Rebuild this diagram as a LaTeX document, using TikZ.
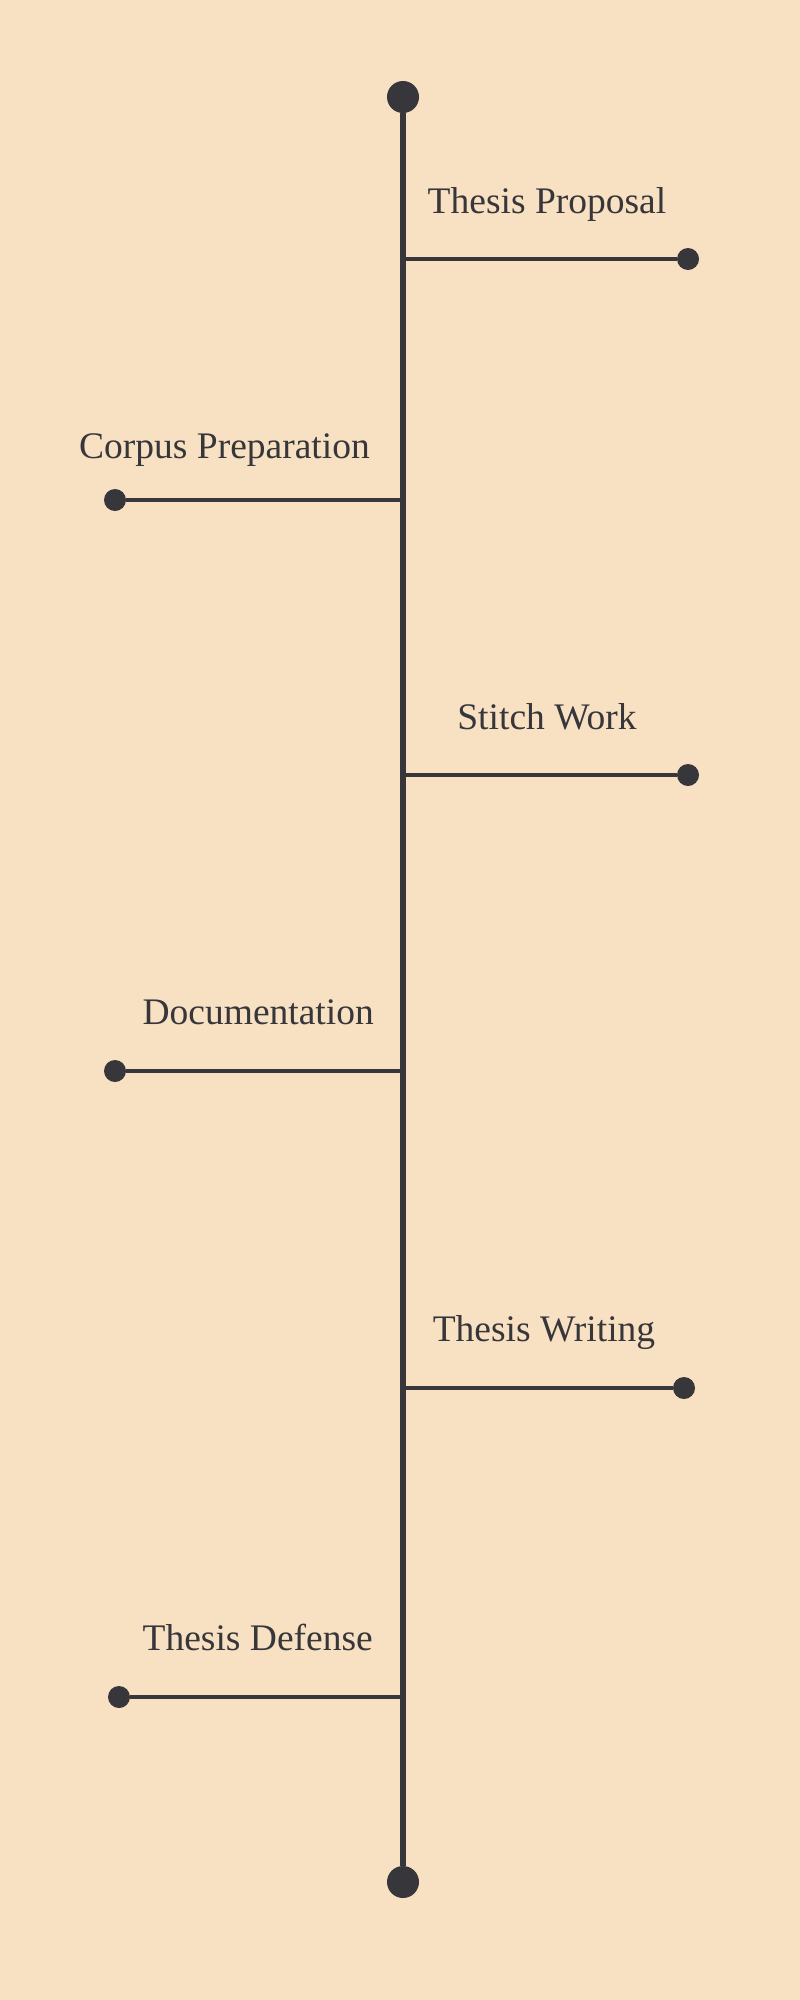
\documentclass[tikz,border=0pt]{standalone}
\usepackage{fontspec}
\setmainfont{Liberation Serif}
\definecolor{paper}{HTML}{F8E1C2}
\definecolor{ink}{HTML}{37363B}

\begin{document}
\begin{tikzpicture}[x=1pt,y=-1pt,
bigdot/.style={circle,fill=ink,inner sep=0pt,minimum size=32pt},
enddot/.style={circle,fill=ink,inner sep=0pt,minimum size=22pt},
milestone/.style={font=\fontsize{37.5}{44}\selectfont,text=ink,inner sep=0pt},
spine/.style={draw=ink,line width=5.5pt},
branch/.style={draw=ink,line width=3.5pt} ]

\fill[paper] (0,0) rectangle (800,2000);

\node[bigdot](top) at (403,97) {};

\node[bigdot](bottom) at (403,1882) {};

\draw[spine] (top) -- (bottom);

% right side
\coordinate (p1) at (403,259);
\node[enddot](d1) at (688,259) {};
\node[milestone,anchor=base](t1) at (547,213) {Thesis Proposal};
\draw[branch] (p1) -- (d1);

\coordinate (p3) at (403,775);
\node[enddot](d3) at (688,775) {};
\node[milestone,anchor=base](t3) at (547,729) {Stitch Work};
\draw[branch] (p3) -- (d3);

\coordinate (p5) at (400,1388);
\node[enddot](d5) at (684,1388) {};
\node[milestone,anchor=base](t5) at (544,1341) {Thesis Writing};
\draw[branch] (p5) -- (d5);

% left side
\coordinate (p2) at (403,500);
\node[enddot](d2) at (115,500) {};
\node[milestone,anchor=base east](t2) at (370,458) {Corpus Preparation};
\draw[branch] (p2) -- (d2);

\coordinate (p4) at (403,1071);
\node[enddot](d4) at (115,1071) {};
\node[milestone,anchor=base east](t4) at (374,1024) {Documentation};
\draw[branch] (p4) -- (d4);

\coordinate (p6) at (403,1697);
\node[enddot](d6) at (119,1697) {};
\node[milestone,anchor=base east](t6) at (373,1650) {Thesis Defense};
\draw[branch] (p6) -- (d6);

\end{tikzpicture}
\end{document}
